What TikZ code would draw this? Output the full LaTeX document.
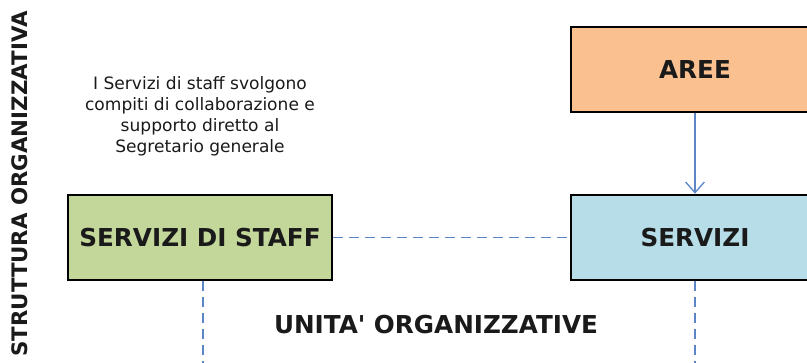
\documentclass[tikz,border=0pt]{standalone}
\usepackage{fontspec}
\setmainfont{DejaVu Sans}
\usetikzlibrary{arrows.meta}
\usetikzlibrary{positioning}
\definecolor{areefill}{HTML}{FAC090}
\definecolor{servfill}{HTML}{B7DEE8}
\definecolor{stafffill}{HTML}{C4D79B}
\definecolor{linkblue}{RGB}{92,134,200}
\definecolor{inkdark}{HTML}{1A1A1A}
\tikzstyle{unit} = [rectangle, minimum width=186pt, minimum height=63.75pt, text centered, draw=black, line width=1.9pt, text=inkdark, font=\fontsize{18.5}{21}\selectfont\bfseries]
\tikzstyle{staffunit} = [unit, minimum width=198pt, fill=stafffill]
\tikzstyle{note} = [align=center, text=inkdark, font=\fontsize{12.8}{15.75}\selectfont]
\tikzstyle{title} = [text=inkdark, font=\fontsize{18.5}{21}\selectfont\bfseries]
\tikzstyle{link} = [draw=linkblue, line width=1pt]
\tikzstyle{dashlink} = [link, dash pattern=on 7.5pt off 4.5pt]
\tikzstyle{arrow} = [link, -{Straight Barb[length=8pt,width=14pt]}]

\begin{document}
\begin{tikzpicture}[node distance=126pt]

  \useasboundingbox (0,0) rectangle (605.25pt,-272.25pt);
  \clip (0,0) rectangle (605.25pt,-272.25pt);

  % We start by placing the blocks
  \node (servizi) [unit, fill=servfill] at (521.25pt,-178.1pt) {SERVIZI};
  \node (aree) [unit, fill=areefill, above of=servizi] {AREE};
  \node (staff) [staffunit] at (150pt,-178.1pt) {SERVIZI DI STAFF};

  % texts
  \node (nota) [note] at (150pt,-87pt) {I Servizi di staff svolgono\\compiti di collaborazione e\\supporto diretto al\\Segretario generale};
  \node (unita) [title] at (327pt,-243.75pt) {UNITA\textquotesingle{} ORGANIZZATIVE};
  \node (struttura) [title, font=\fontsize{16}{19}\selectfont\bfseries, rotate=90] at (15pt,-138pt) {STRUTTURA ORGANIZZATIVA};

  % free ends of the lines going down
  \coordinate (staffdown) at (152.25pt,-272.25pt);
  \coordinate (servdown) at (521.25pt,-272.25pt);

  % draw connections between nodes
  \draw [arrow] (aree) -- (servizi);
  \draw [dashlink] (staff) -- (servizi);
  \draw [dashlink] (staff.south -| staffdown) -- (staffdown);
  \draw [dashlink] (servizi.south) -- (servdown);

\end{tikzpicture}
\end{document}
